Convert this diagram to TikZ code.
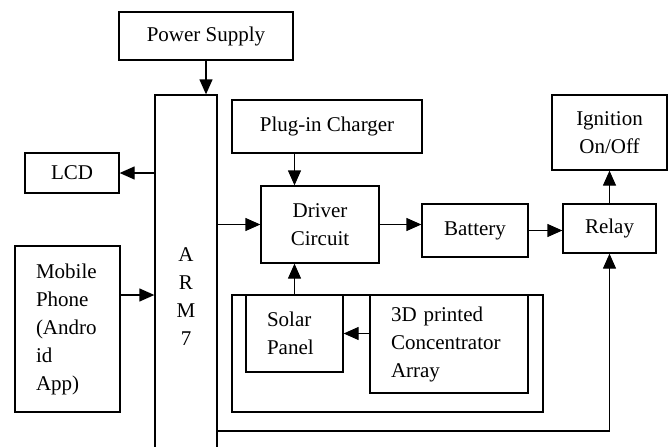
\documentclass[tikz,border=0pt]{standalone}
\usepackage{fontspec}
\setmainfont{Liberation Serif}
\usetikzlibrary{arrows.meta,positioning,calc}

\begin{document}
\begin{tikzpicture}[x=1pt, y=-1pt,
  blk/.style={draw, line width=1.3pt, inner sep=0pt, align=center,
    font=\fontsize{21}{28}\selectfont},
  arr/.style={line width=1.3pt, -{Triangle[length=15pt,width=13pt]}}]
  \useasboundingbox (0,0) rectangle (670,447);
  \clip (0,0) rectangle (670,447);

  % Controller and its inputs
  \node[blk, minimum width=174pt, minimum height=48pt] (power) at (206,36) {Power Supply};
  \node[blk, minimum width=62pt, minimum height=404pt] (arm) at (186,297) {A\\R\\M\\7};
  \node[blk, minimum width=94pt, minimum height=40pt] (lcd) at (72,173) {LCD};
  \node[blk, minimum width=105pt, minimum height=166pt, text width=63pt, align=left]
    (mobile) at (67.5,329) {Mobile\\Phone\\(Andro\\id\\App)};

  % Charging side
  \node[blk, minimum width=190pt, minimum height=53pt] (charger) at (327,126.5) {Plug-in Charger};
  \node[blk, minimum width=118pt, minimum height=77pt] (driver) at (320,224.5) {Driver\\Circuit};
  \node[blk, minimum width=106pt, minimum height=53pt] (battery) at (475,230.5) {Battery};
  \node[blk, minimum width=93pt, minimum height=49pt] (relay) at (609.5,228.5) {Relay};
  \node[blk, minimum width=115pt, minimum height=75pt] (ignition) at (609.5,132.5) {Ignition\\On/Off};

  % Solar unit
  \node[blk, minimum width=311pt, minimum height=117pt] (frame) at (387.5,353.5) {};
  \node[blk, minimum width=97pt, minimum height=77pt, text width=55pt, align=left]
    (solar) at (294.5,333.5) {Solar\\Panel};
  \node[blk, minimum width=158pt, minimum height=98pt, text width=116pt, align=left]
    (conc) at (449,344) {3D printed\\Concentrator\\Array};

  % Connections
  \coordinate (mobout) at ([yshift=34pt]mobile.east);
  \coordinate (bus) at (0,431);
  \draw[arr] (power.south |- power.south) -- (power.south |- arm.north);
  \draw[arr] (arm.west |- lcd.east) -- (lcd.east);
  \draw[arr] (mobout) -- (mobout -| arm.west);
  \draw[arr] (arm.east |- driver.west) -- (driver.west);
  \draw[arr] (charger.south -| solar.north) -- (driver.north -| solar.north);
  \draw[arr] (solar.north) -- (solar.north |- driver.south);
  \draw[arr] (conc.west |- solar.east) -- (solar.east);
  \draw[arr] (driver.east) -- (driver.east -| battery.west);
  \draw[arr] (battery.east) -- (battery.east -| relay.west);
  \draw[arr] (relay.north) -- (ignition.south);
  \draw[arr] (arm.east |- bus) -| (relay.south);
\end{tikzpicture}
\end{document}
